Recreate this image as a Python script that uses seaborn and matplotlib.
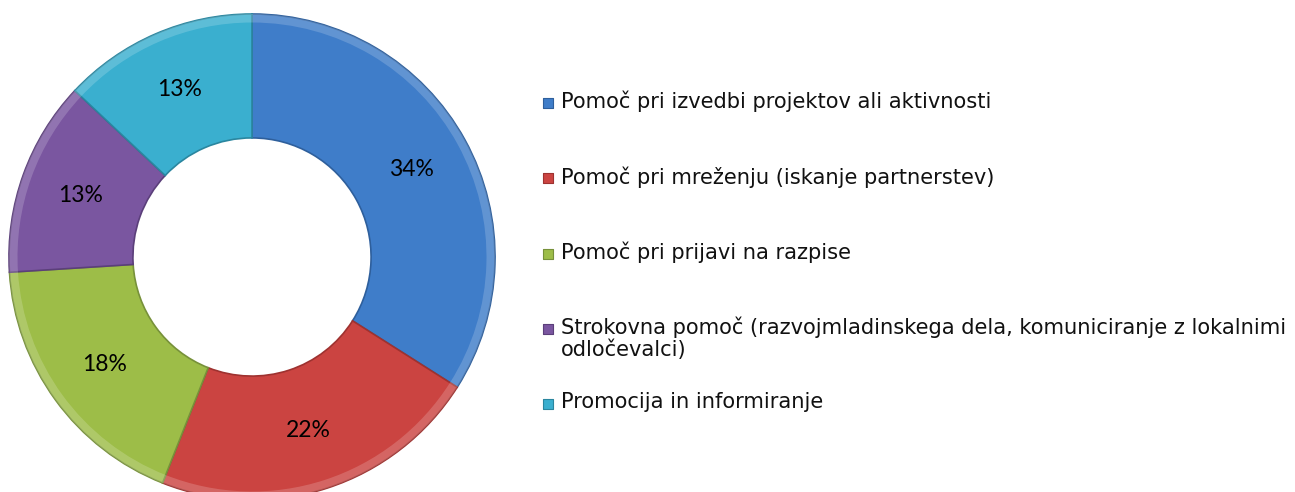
import matplotlib
matplotlib.use("Agg")
import matplotlib.pyplot as plt
import seaborn as sns

kategorije = [
    "Pomoč pri izvedbi projektov ali aktivnosti",
    "Pomoč pri mreženju (iskanje partnerstev)",
    "Pomoč pri prijavi na razpise",
    "Strokovna pomoč (razvojmladinskega dela, komuniciranje z lokalnimi\nodločevalci)",
    "Promocija in informiranje",
]
delezi = [34, 22, 18, 13, 13]
barve = ["#3F7DC9", "#CB4441", "#9DBD48", "#7A56A0", "#3AAFCF"]
robovi = ["#2E5F9C", "#9E3230", "#77913A", "#5B3F7A", "#2A869F"]

sns.set_theme(style="white")
plt.rcParams["font.family"] = ["DejaVu Sans"]

fig = plt.figure(figsize=(12.95, 4.92), dpi=100)

# donut
ax = fig.add_axes([9 / 1295, -8 / 492, 486 / 1295, 486 / 492])
wedges, _, autotexts = ax.pie(
    delezi,
    colors=barve,
    startangle=90,
    counterclock=False,
    autopct="%.0f%%",
    pctdistance=0.75,
    radius=1,
    wedgeprops=dict(width=0.51, linewidth=1.2),
    textprops=dict(family="Lato", fontsize=16.5, color="black"),
)
for w, r in zip(wedges, robovi):
    w.set_edgecolor(r)
# lighter bevel on outer rim
ax.pie(
    delezi,
    colors=["white"] * len(delezi),
    startangle=90,
    counterclock=False,
    radius=1,
    wedgeprops=dict(width=0.035, linewidth=0, alpha=0.18),
)
ax.set_xlim(-1, 1)
ax.set_ylim(-1, 1)

# legend
lax = fig.add_axes([0, 0, 1, 1])
lax.set_xlim(0, 1295)
lax.set_ylim(492, 0)
lax.axis("off")
y0, korak = 103, 75.3
for i, (lab, c, r) in enumerate(zip(kategorije, barve, robovi)):
    y = y0 + i * korak
    lax.scatter([548], [y], marker="s", s=55, color=c, edgecolor=r, linewidth=0.8)
    lax.text(561, y - 12, lab, fontsize=15.1, va="top", ha="left",
             color="#111111", linespacing=1.08)

fig.savefig("out.png", dpi=100)
